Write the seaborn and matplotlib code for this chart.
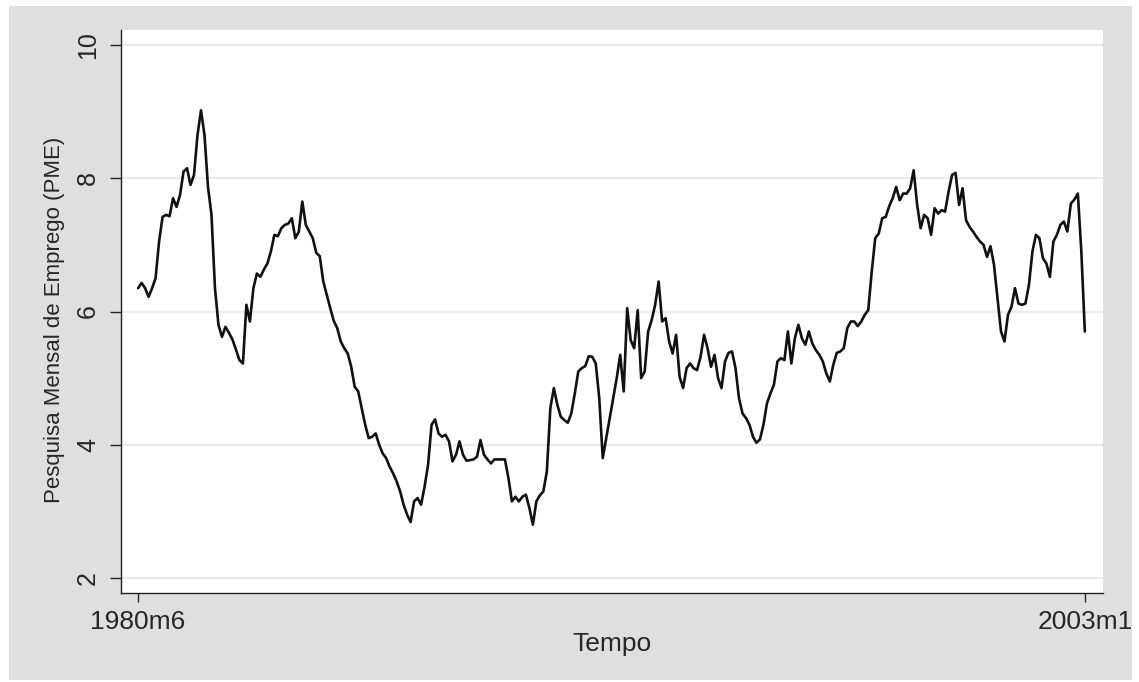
import numpy as np
import pandas as pd
import matplotlib
matplotlib.use("Agg")
import matplotlib.pyplot as plt
from matplotlib import font_manager
from matplotlib.patches import Rectangle
import seaborn as sns

# Monthly PME series, June 1980 to January 2003
start_month = "1980-06"
end_month = "2003-01"
pme = [
    6.35, 6.43, 6.35, 6.22, 6.35, 6.50, 7.05, 7.42, 7.45, 7.43,   # 0-9
    7.70, 7.57, 7.75, 8.10, 8.15, 7.90, 8.05, 8.65, 9.02, 8.65,   # 10-19
    7.87, 7.45, 6.35, 5.80, 5.62, 5.77, 5.68, 5.58, 5.43, 5.27,   # 20-29
    5.22, 6.10, 5.85, 6.35, 6.57, 6.52, 6.63, 6.72, 6.90, 7.15,   # 30-39
    7.13, 7.25, 7.30, 7.32, 7.40, 7.10, 7.20, 7.65, 7.30, 7.20,   # 40-49
    7.10, 6.88, 6.83, 6.45, 6.25, 6.05, 5.86, 5.75, 5.55, 5.45,   # 50-59
    5.37, 5.17, 4.87, 4.80, 4.55, 4.30, 4.10, 4.12, 4.17, 4.00,   # 60-69
    3.87, 3.80, 3.67, 3.57, 3.45, 3.30, 3.10, 2.95, 2.84, 3.15,   # 70-79
    3.20, 3.10, 3.37, 3.70, 4.30, 4.38, 4.17, 4.12, 4.15, 4.05,   # 80-89
    3.75, 3.85, 4.05, 3.85, 3.76, 3.77, 3.78, 3.82, 4.07, 3.85,   # 90-99
    3.78, 3.72, 3.78, 3.78, 3.78, 3.78, 3.50, 3.15, 3.22, 3.15,   # 100-109
    3.22, 3.25, 3.05, 2.80, 3.15, 3.24, 3.30, 3.60, 4.55, 4.85,   # 110-119
    4.60, 4.42, 4.37, 4.33, 4.47, 4.77, 5.10, 5.15, 5.18, 5.33,   # 120-129
    5.32, 5.22, 4.70, 3.80, 4.10, 4.40, 4.70, 5.00, 5.35, 4.80,   # 130-139
    6.05, 5.57, 5.45, 6.02, 5.00, 5.10, 5.70, 5.87, 6.10, 6.45,   # 140-149
    5.85, 5.90, 5.55, 5.37, 5.65, 5.02, 4.85, 5.15, 5.22, 5.15,   # 150-159
    5.12, 5.32, 5.65, 5.45, 5.17, 5.35, 5.00, 4.85, 5.25, 5.38,   # 160-169
    5.40, 5.15, 4.70, 4.47, 4.40, 4.30, 4.12, 4.03, 4.08, 4.30,   # 170-179
    4.62, 4.77, 4.90, 5.25, 5.30, 5.27, 5.70, 5.22, 5.60, 5.80,   # 180-189
    5.60, 5.50, 5.70, 5.52, 5.42, 5.35, 5.25, 5.07, 4.95, 5.20,   # 190-199
    5.38, 5.40, 5.45, 5.75, 5.85, 5.85, 5.78, 5.85, 5.95, 6.02,   # 200-209
    6.60, 7.10, 7.17, 7.40, 7.42, 7.58, 7.70, 7.87, 7.67, 7.77,   # 210-219
    7.77, 7.85, 8.12, 7.60, 7.25, 7.45, 7.40, 7.15, 7.55, 7.47,   # 220-229
    7.52, 7.50, 7.80, 8.05, 8.08, 7.60, 7.85, 7.37, 7.27, 7.20,   # 230-239
    7.12, 7.05, 7.00, 6.82, 6.98, 6.70, 6.20, 5.70, 5.55, 5.95,   # 240-249
    6.07, 6.35, 6.12, 6.10, 6.12, 6.40, 6.90, 7.15, 7.10, 6.80,   # 250-259
    6.72, 6.52, 7.05, 7.15, 7.30, 7.35, 7.20, 7.62, 7.68, 7.77,   # 260-269
    6.90, 5.70,                                                   # 270-271
]
y_ticks = [2, 4, 6, 8, 10]
x_label = "Tempo"
y_label = "Pesquisa Mensal de Emprego (PME)"

periods = pd.period_range(start_month, end_month, freq="M")
assert len(periods) == len(pme)
df = pd.DataFrame({"t": np.arange(len(pme)), "pme": pme})


def stata_month(p):
    return f"{p.year}m{p.month}"


tick_pos = [0, len(periods) - 1]
tick_labels = [stata_month(periods[i]) for i in tick_pos]

sns.set_theme(style="white")
plt.rcParams["font.family"] = ["Liberation Sans", "DejaVu Sans"]

# narrower face for the vertical axis title, if available
try:
    font_manager.findfont("Liberation Sans Narrow", fallback_to_default=False)
    ylab_family, ylab_size = ["Liberation Sans Narrow"], 19.5
except ValueError:
    ylab_family, ylab_size = ["Liberation Sans"], 16

W, H = 1139, 682
fig = plt.figure(figsize=(W / 100, H / 100), dpi=100, facecolor="white")
# grey graph region behind the plot area
fig.patches.append(Rectangle((9 / W, 2 / H), (1132 - 9) / W, (680 - 6) / H,
                             transform=fig.transFigure, facecolor="#dfdfdf",
                             edgecolor="none", zorder=-10))

ax = fig.add_axes([121 / W, 1 - 593 / H, (1103 - 121) / W, (593 - 30) / H])
ax.set_zorder(1)
ax.set_facecolor("white")

for v in y_ticks:
    ax.axhline(v, color="#ececec", lw=1.6, zorder=0)

sns.lineplot(data=df, x="t", y="pme", ax=ax, color="#111111", lw=1.9)

ax.set_xlim(-4.9, 276.2)
ax.set_ylim(1.775, 10.225)
ax.set_yticks(y_ticks)
ax.set_yticklabels([str(v) for v in y_ticks], rotation=90, va="center",
                   fontsize=18)
ax.set_xticks(tick_pos)
ax.set_xticklabels(tick_labels, fontsize=19)
ax.tick_params(axis="y", direction="out", length=8, width=1.0, color="#222222",
               pad=7, left=True)
ax.tick_params(axis="x", direction="out", length=6.5, width=1.0, color="#222222",
               pad=6, bottom=True)
ax.grid(False)

for side in ["top", "right"]:
    ax.spines[side].set_visible(False)
for side in ["left", "bottom"]:
    ax.spines[side].set_color("#222222")
    ax.spines[side].set_linewidth(1.0)

ax.set_xlabel(x_label, fontsize=19, labelpad=-2)
ax.set_ylabel(y_label, fontsize=ylab_size, family=ylab_family, labelpad=8)
ax.yaxis.label.set_y(0.485)

fig.savefig("out.png", dpi=100, facecolor="white")
